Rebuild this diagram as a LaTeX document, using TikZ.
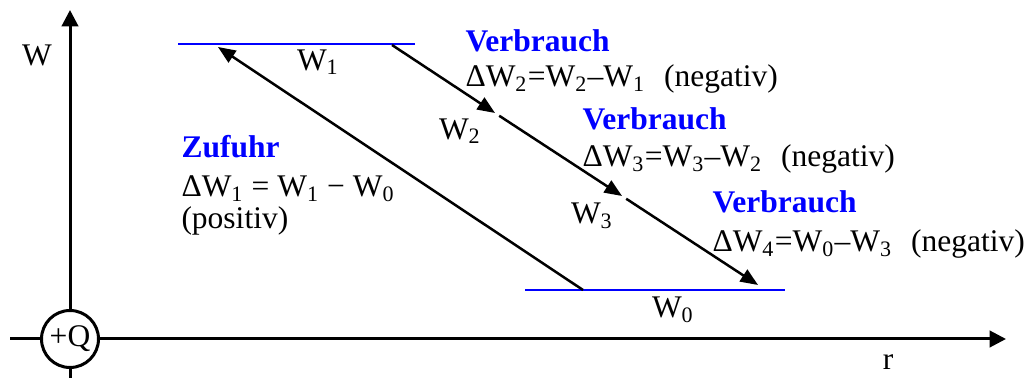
\documentclass[tikz,border=0pt]{standalone}
\usepackage{fontspec}
\setmainfont{Liberation Serif}
\usetikzlibrary{arrows.meta}
\definecolor{zblue}{RGB}{0,0,255}
\tikzstyle{axis}=[line width=1.2pt,-{Triangle[length=6.6pt,width=6.6pt]}]
\tikzstyle{level}=[line width=0.9pt,zblue]
\tikzstyle{dedge}=[line width=1pt,-{Triangle[length=7pt,width=5.6pt]}]
\tikzstyle{labelsty}=[font=\fontsize{12.6}{15}\selectfont,inner sep=0pt]
\tikzstyle{head}=[labelsty,text=zblue,font=\fontsize{12.6}{15}\selectfont\bfseries,anchor=base west]
\tikzstyle{formula}=[labelsty,anchor=base west]
\newcommand{\ix}[1]{\textsubscript{#1}}
\begin{document}
\begin{tikzpicture}[x=0.4pt,y=-0.4pt]
	\useasboundingbox (0,0) rectangle (1027,378);

	% axes
	\coordinate (ys) at (70,378);
	\coordinate (ye) at (70,10);
	\coordinate (xs) at (10,339);
	\coordinate (xe) at (1006,339);
	\draw[axis] (ys) -- (ye);
	\draw[axis] (xs) -- (xe);
	\node[circle,draw,line width=1.2pt,fill=white,minimum size=22.8pt,labelsty] (q) at (70,339) {+Q};
	\node[labelsty] (wlab) at (37,55) {W};
	\node[labelsty] (rlab) at (888,362) {r};

	% energy levels
	\coordinate (l1a) at (178,44);
	\coordinate (l1b) at (415,44);
	\coordinate (l0a) at (525,290);
	\coordinate (l0b) at (785,290);
	\draw[level] (l1a) -- (l1b);
	\draw[level] (l0a) -- (l0b);
	\node[labelsty] (w1) at (318,62) {W\ix{1}};
	\node[labelsty] (w0) at (673,310) {W\ix{0}};
	\node[labelsty] (w2) at (460,131) {W\ix{2}};
	\node[labelsty] (w3) at (592,216) {W\ix{3}};

	% supply
	\coordinate (z0) at (583,290);
	\coordinate (z1) at (218,47);
	\draw[dedge] (z0) -- (z1);
	\node[head] (zuf) at (181,158) {Zufuhr};
	\node[formula] (dw1) at (181,197) {ΔW\ix{1} = W\ix{1} − W\ix{0}};
	\node[formula] (pos) at (181,229) {(positiv)};

	% consumption
	\coordinate (v0) at (392,45);
	\coordinate (v1) at (495,113);
	\coordinate (v2) at (622,196);
	\coordinate (v3) at (758,285);
	\draw[dedge] (v0) -- (v1);
	\draw[dedge,shorten <=2pt] (v1) -- (v2);
	\draw[dedge,shorten <=2pt] (v2) -- (v3);
	\node[head] (vb1) at (465,52) {Verbrauch};
	\node[formula] (dw2) at (465,87) {ΔW\ix{2}=W\ix{2}–W\ix{1}\hspace{0.6em}(negativ)};
	\node[head] (vb2) at (582,130) {Verbrauch};
	\node[formula] (dw3) at (582,167) {ΔW\ix{3}=W\ix{3}–W\ix{2}\hspace{0.6em}(negativ)};
	\node[head] (vb3) at (712,213) {Verbrauch};
	\node[formula] (dw4) at (712,252) {ΔW\ix{4}=W\ix{0}–W\ix{3}\hspace{0.6em}(negativ)};
\end{tikzpicture}
\end{document}
